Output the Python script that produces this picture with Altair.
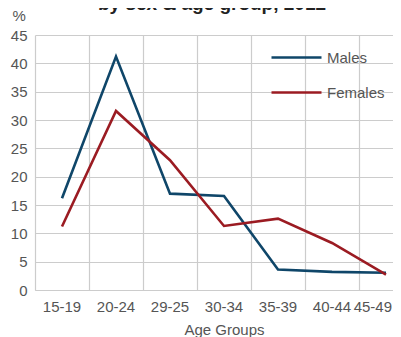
import altair as alt
import pandas as pd

ages = ["15-19", "20-24", "29-25", "30-34", "35-39", "40-44", "45-49"]
males = [16.2, 41.2, 17.0, 16.6, 3.6, 3.2, 3.05]
females = [11.2, 31.6, 22.9, 11.3, 12.6, 8.3, 2.7]
series = ["Males", "Females"]
colors = ["#0f4669", "#9b1b22"]

rows = []
for a, m, f in zip(ages, males, females):
    rows.append({"age": a, "sex": "Males", "pct": m})
    rows.append({"age": a, "sex": "Females", "pct": f})
df = pd.DataFrame(rows)

FONT = "Liberation Sans"
TXT = "#555555"
last = ages[-1]

chart = alt.Chart(df).mark_line(strokeWidth=2.6).encode(
    x=alt.X("age:N", sort=ages,
            scale=alt.Scale(type="band", range=[0, 378], paddingInner=0, paddingOuter=0),
            axis=alt.Axis(title="Age Groups", labelAngle=0, bandPosition=0,
                          grid=True, ticks=False, labelPadding=9,
                          titlePadding=8, domain=True, titleFontWeight="normal",
                          labelAlign=alt.ConditionalAxisLabelAlign(
                              condition={"test": f"datum.value == '{last}'", "value": "right"},
                              value="center"),
                          labelOffset=alt.ConditionalAxisNumber(
                              condition={"test": f"datum.value == '{last}'", "value": 6},
                              value=0))),
    y=alt.Y("pct:Q", scale=alt.Scale(domain=[0, 45], nice=False),
            axis=alt.Axis(values=list(range(0, 50, 5)), title="%", titleAngle=0,
                          titleAlign="left", titleBaseline="alphabetic",
                          titleX=-23, titleY=-15, ticks=False, labelPadding=8,
                          domain=False, titleFontWeight="normal")),
    color=alt.Color("sex:N", sort=series,
                    scale=alt.Scale(domain=series, range=colors),
                    legend=alt.Legend(title=None, orient="none", legendX=235, legendY=-4,
                                      symbolType="stroke", symbolSize=2500,
                                      symbolStrokeWidth=2.6, labelFontSize=15,
                                      labelColor=TXT, labelFont=FONT, rowPadding=0,
                                      labelOffset=4)),
).properties(
    width=358, height=255,
    title=alt.TitleParams("by sex & age group, 2012", fontSize=19, font=FONT,
                          fontWeight="bold", color="#222222", offset=0, dx=-2, dy=6),
    autosize=alt.AutoSizeParams(type="none"),
    padding={"left": 27, "top": 27, "right": 0, "bottom": 50},
).configure_axis(
    labelFont=FONT, titleFont=FONT, labelFontSize=15, titleFontSize=15,
    labelColor=TXT, titleColor=TXT, gridColor="#cccccc", domainColor="#cccccc",
    gridWidth=1.2, domainWidth=1.2,
).configure_view(stroke=None)

chart.save("out.html", embed_options={"renderer": "svg", "actions": False})
